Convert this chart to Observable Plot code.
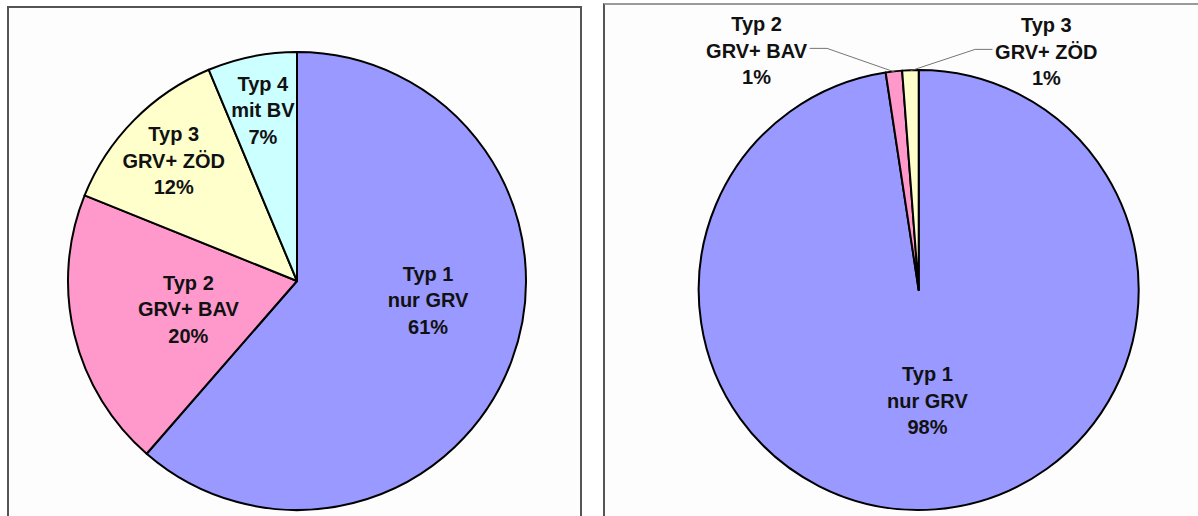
<!DOCTYPE html>
<html><head><meta charset="utf-8">
<script src="https://cdn.jsdelivr.net/npm/d3@7"></script>
<script src="https://cdn.jsdelivr.net/npm/@observablehq/plot@0.6"></script>
<style>
body{margin:0;background:#fff;}
#root{position:relative;width:1198px;height:516px;overflow:hidden;background:#fff;}
.panel{position:absolute;box-sizing:border-box;background:#fdfdfd;}
#left{left:7px;top:6px;width:575px;height:520px;border:2px solid #555;border-bottom:none;}
#right{left:603px;top:3px;width:640px;height:520px;border-left:2px solid #555;border-top:2px solid #9a9a9a;}
.panel svg{display:block;max-width:none;}
</style></head>
<body><div id="root"><div id="left" class="panel"></div><div id="right" class="panel"></div></div>
<script>
// ---- data ----
const typNames = ["Typ 1", "Typ 2", "Typ 3", "Typ 4"];
const typDescriptions = ["nur GRV", "GRV+ BAV", "GRV+ ZÖD", "mit BV"];
const sliceColors = ["#9999FF", "#FF99CC", "#FFFFCC", "#CCFFFF"];
// left chart: shares, labels as printed
const leftShares = [61.4, 19.7, 12.6, 6.3];
const leftPctLabels = ["61%", "20%", "12%", "7%"];
// right chart
const rightShares = [97.6, 1.2, 1.2];
const rightPctLabels = ["98%", "1%", "1%"];

// ---- layout / style ----
const FONT = "'Liberation Sans', Arial, sans-serif";
const FS = 20;
const leftLayout = {w: 571, h: 512, cx: 288, cy: 273, r: 229,
  labelRadius: [0.575, 0.49, 0.76, 0.77],
  labelAngleShift: [-13, 0, 0, 0]};
const rightLayout = {w: 593, h: 511, cx: 313.7, cy: 285, r: 220, labelRadius: [0.495], labelAngleShift: [0],
  // callout labels (placed outside): angle (deg clockwise from top) and distance (in radii)
  callouts: {1: {angle: 326.0, dist: 1.322, side: "right"}, 2: {angle: 27.9, dist: 1.235, side: "left"}}};

const ctx = document.createElement("canvas").getContext("2d");
ctx.font = `bold ${FS}px ${FONT}`;

function pieMark(shares, colors) {
  return (...args) => {
    const s = args.find(a => a && typeof a.x === "function" && typeof a.y === "function");
    const cx = s.x(0), cy = s.y(0), r = s.x(1) - s.x(0);
    const arcs = d3.pie().sort(null).value(d => d)(shares);
    const arc = d3.arc().innerRadius(0).outerRadius(r);
    const g = d3.create("svg:g").attr("transform", `translate(${cx},${cy})`);
    g.selectAll("path").data(arcs).join("path")
      .attr("d", arc).attr("fill", (d, i) => colors[i])
      .attr("stroke", "#000").attr("stroke-width", 2).attr("stroke-linejoin", "round");
    return g.node();
  };
}

function buildPie(shares, pctLabels, L) {
  const arcs = d3.pie().sort(null).value(d => d)(shares);
  const labels = [], leaders = [];
  arcs.forEach((a, i) => {
    const mid = (a.startAngle + a.endAngle) / 2;
    const text = `${typNames[i]}\n${typDescriptions[i]}\n${pctLabels[i]}`;
    const c = L.callouts && L.callouts[i];
    if (c) {
      const ang = c.angle * Math.PI / 180;
      const x = c.dist * Math.sin(ang), y = c.dist * Math.cos(ang);
      labels.push({x, y, text});
      const halfW = ctx.measureText(typDescriptions[i]).width / 2;
      const dir = c.side === "right" ? 1 : -1;
      const sx = x + dir * (halfW + 3) / L.r, ex = sx + dir * 17 / L.r;
      const yl = y + 1 / L.r;
      leaders.push({id: i, x: sx, y: yl}, {id: i, x: ex, y: yl}, {id: i, x: Math.sin(mid), y: Math.cos(mid)});
    } else {
      const f = L.labelRadius[i];
      const ang = mid + (L.labelAngleShift[i] || 0) * Math.PI / 180;
      labels.push({x: f * Math.sin(ang), y: f * Math.cos(ang), text});
    }
  });
  return Plot.plot({
    width: L.w, height: L.h, margin: 0,
    style: {background: "transparent", overflow: "visible"},
    x: {axis: null, domain: [-L.cx / L.r, (L.w - L.cx) / L.r]},
    y: {axis: null, domain: [-(L.h - L.cy) / L.r, L.cy / L.r]},
    marks: [
      pieMark(shares, sliceColors),
      Plot.line(leaders, {x: "x", y: "y", z: "id", stroke: "#666", strokeWidth: 0.9}),
      Plot.text(labels, {x: "x", y: "y", text: "text", fontSize: FS, fontWeight: "bold",
        fontFamily: FONT, lineHeight: 1.33, fill: "#111", textAnchor: "middle", lineAnchor: "middle"})
    ]
  });
}

document.getElementById("left").appendChild(buildPie(leftShares, leftPctLabels, leftLayout));
document.getElementById("right").appendChild(buildPie(rightShares, rightPctLabels, rightLayout));
</script></body></html>
